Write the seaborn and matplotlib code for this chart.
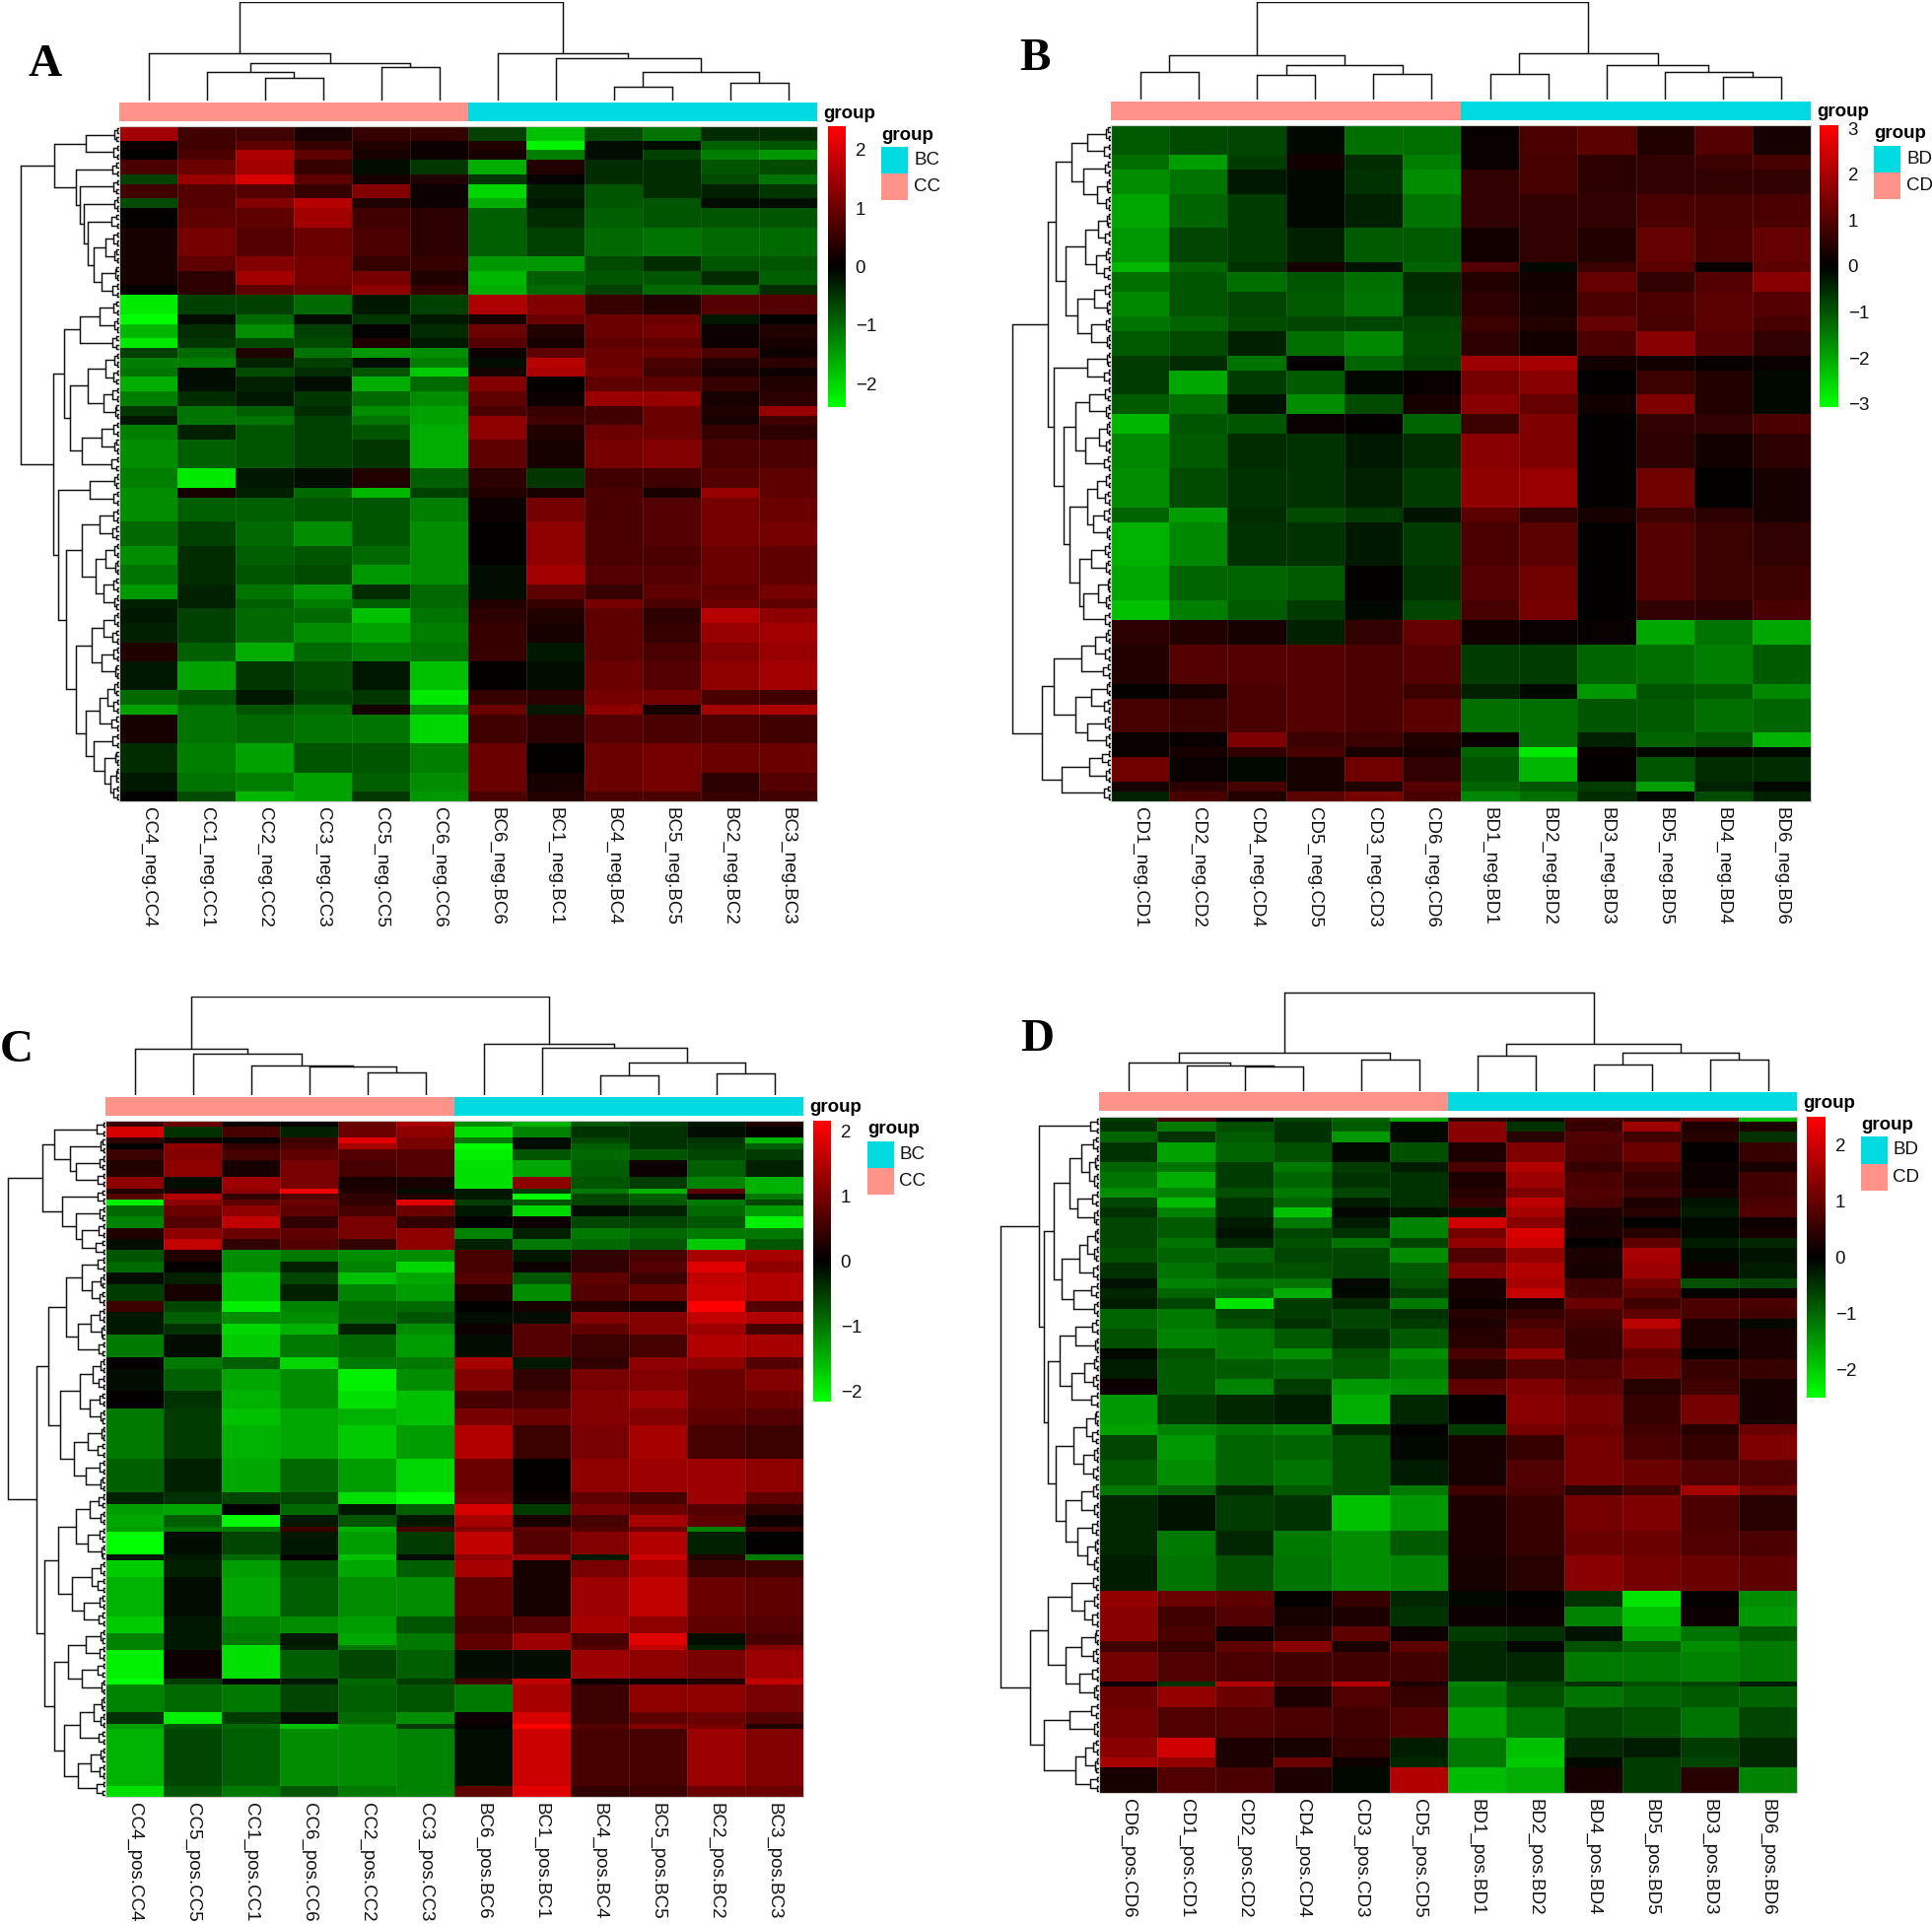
import numpy as np
import pandas as pd
import matplotlib
matplotlib.use("Agg")
import matplotlib.pyplot as plt
from matplotlib.colors import LinearSegmentedColormap, ListedColormap
import seaborn as sns

# Step 1: values
# each panel: rows of 12 values, and how many metabolites each row block covers
A_cols = ["CC4_neg.CC4", "CC1_neg.CC1", "CC2_neg.CC2", "CC3_neg.CC3", "CC5_neg.CC5", "CC6_neg.CC6",
          "BC6_neg.BC6", "BC1_neg.BC1", "BC4_neg.BC4", "BC5_neg.BC5", "BC2_neg.BC2", "BC3_neg.BC3"]
A_span = [3, 2, 2, 3, 2, 3, 2, 4, 6, 3, 3, 2,
          4, 2, 3, 2, 2, 2, 2, 3, 3, 2, 2, 3, 6, 4,
          2, 5, 5, 4, 4, 3, 2, 3, 4, 4, 6, 3, 2, 6, 6, 4, 2]
A_vals = [
    [1.5, .6, .6, .2, .5, .5, -.6, -1.8, -.7, -1.1, -.4, -.4],
    [.1, .6, .9, .5, .3, .1, .3, -2.3, -.1, -.1, -.9, -.8],
    [0, .7, 1.6, .9, .2, .1, .2, -1.2, -.1, -.6, -1.2, -1.4],
    [.7, 1.0, 1.5, .5, -.1, -.5, -1.6, .3, -.4, -.4, -.8, -.7],
    [-.6, 1.4, 2.0, .9, .2, .3, -.5, 0, -.4, -.4, -.7, -1.1],
    [.6, .8, .8, .5, 1.2, .1, -2.0, -.3, -.8, -.4, -.3, -.5],
    [-.7, .8, 1.2, 1.7, .3, .1, -1.6, -.2, -.8, -.8, -.1, -.1],
    [0, .9, .9, 1.5, .6, .4, -.9, -.4, -.9, -.8, -.8, -.8],
    [.2, 1.1, .8, 1.0, .7, .4, -.9, -.6, -1, -1.1, -1, -1],
    [.2, .9, 1.2, 1.1, .5, .5, -1.4, -1.4, -.7, -.4, -.8, -.8],
    [.2, .4, 1.5, 1.1, 1.1, .3, -1.7, -.9, -.8, -.8, -.4, -.9],
    [0, .4, .9, 1.0, 1.3, .5, -1.6, -1, -.6, -1, -1, -.4],
    [-2.2, -.6, -.6, -1, -.2, -.6, 1.6, 1.2, .5, .3, .8, .8],
    [-2.4, -.1, -1, -.1, -.5, -.2, .2, 1, 1, 1, -.2, 0],
    [-1.7, -.4, -1.3, -.6, 0, -.4, 1, .3, 1.0, 1.1, .1, .3],
    [-2.2, -.5, -.7, -.7, .3, -.2, .8, .2, .9, .9, .1, .2],
    [-.6, -1, .3, -1.1, -1.4, -1.3, .1, .9, 1, 1, .7, .1],
    [-1.2, -1.2, -.3, -.6, -.1, -1.2, -.1, 1.7, 1.0, .7, .3, .4],
    [-1.1, -.1, -.7, -.4, -.8, -1.9, .2, 1.6, 1.1, .6, .2, .1],
    [-1.6, -.1, -.3, -.1, -1.6, -1, 1.2, 0, .9, .9, .5, .3],
    [-1.2, -.4, -.2, -.5, -1, -1.3, .9, .1, 1.4, 1.4, .2, .4],
    [-.5, -1.1, -.9, -.4, -1.3, -1.5, .7, .5, .6, 1, .3, 1.4],
    [-.2, -1.1, -1.1, -.6, -1.1, -1.5, 1.3, .6, .6, 1.0, .2, .6],
    [-1.2, -.3, -.8, -.6, -.8, -1.6, 1.3, .3, 1.0, 1.0, .5, .4],
    [-1.3, -.9, -.8, -.6, -.5, -1.6, .9, .2, 1.1, 1.2, .7, .7],
    [-1.2, -2.2, -.2, -.1, .3, -.9, .4, -.5, .6, .6, .8, .9],
    [-1.3, .2, -.3, -1, -1.7, -.6, .3, .2, .7, .2, 1.4, .9],
    [-1.3, -.9, -.9, -.8, -.8, -1.2, .1, 1.1, .7, .8, 1.1, 1.0],
    [-1, -.6, -1, -1.3, -.8, -1.3, 0, 1.3, .7, .8, 1.1, 1.1],
    [-1.3, -.4, -.9, -.8, -1, -1.3, 0, 1.3, .7, .7, 1, .9],
    [-1.1, -.4, -.8, -.7, -1.4, -1.3, -.1, 1.5, .8, .8, 1, .9],
    [-1.4, -.3, -1.1, -1.4, -.4, -1, -.1, .9, .5, .9, .9, 1.1],
    [-.3, -.3, -.9, -1.2, -.9, -1, .3, .5, 1.1, .7, 1.0, .9],
    [-.2, -.6, -1, -1, -1.8, -1.1, .4, .3, .9, .4, 1.7, 1.3],
    [-.3, -.6, -1, -1.3, -1.5, -1.2, .5, .2, .9, .5, 1.4, 1.5],
    [.3, -.9, -1.6, -1, -1.2, -1.1, .5, -.2, .9, .7, 1.2, 1.4],
    [-.2, -1.5, -.5, -.7, -.2, -1.8, 0, -.1, 1, .8, 1.3, 1.5],
    [-1, -.8, -.2, -.6, -.5, -2.2, .5, .4, 1.1, 1.1, .7, .6],
    [-1.5, -1.1, -.8, -1, .2, -1.3, 1.0, -.2, 1.3, .2, 1.5, 1.6],
    [.2, -1.1, -1, -1.1, -1.1, -2, .6, .4, .8, .7, .7, .6],
    [-.4, -1.2, -1.5, -.8, -.8, -1.2, 1, 0, 1, 1.1, 1, 1],
    [-.2, -1.1, -1.2, -1.5, -.9, -1.3, 1, .2, 1, 1.1, .4, .8],
    [0, -.7, -1.7, -1.5, -.5, -1.4, .7, .3, .7, .7, .5, .6],
]
# trees: [height, left, right]; 0 is one leaf, any other number is two leaves joined at that height
A_coltree = [100, [48, 0, [38, [29, 0, 23], 34]], [48, 0, [43, 0, [29, 14, 18]]]]
A_rowtree = [100, [66, [34, 5, 6], [44, 7, [40, 6, [36, 5, [32, 8, [26, [14, 6, 5], [18, 4, 7]]]]]]],
             [67, [56, [40, [20, 6, 5], 7], [50, [32, [14, 5, 6], [16, 7, 4]], [38, [18, 6, 5], 8]]],
              [62, [30, 5, 6],
               [54, [38, [20, 6, 7], [24, [14, 5, 4], [16, 6, 5]]],
                [44, [28, [16, 5, 7], [18, 6, 4]], [34, [20, [12, 5, 6], 8], [26, 7, [15, 4, [9, 3, 6]]]]]]]]]
# last fork next to the heatmap, one per tree leaf
A_twigs = [2, 3, 2, 2.5, 3, 2, 2, 3, 2.5, 2, 3, 2, 2, 2.5, 3, 2, 3, 2, 2, 2.5,
           3, 2, 2.5, 2, 3, 3, 2, 2, 2.5, 3, 2, 2, 3, 2.5, 2, 2, 3, 2, 2.5, 3,
           2, 3, 2, 2, 2.5, 2, 3, 3, 2, 2.5, 2, 2, 3, 2, 2.5, 3, 2, 2, 3, 2,
           2.5, 2, 3, 2, 2, 3, 2.5, 2, 3, 2, 2, 2.5, 3, 2, 2, 3, 2, 2.5, 2, 3]
A_ticks = [-2, -1, 0, 1, 2]

B_cols = ["CD1_neg.CD1", "CD2_neg.CD2", "CD4_neg.CD4", "CD5_neg.CD5", "CD3_neg.CD3", "CD6_neg.CD6",
          "BD1_neg.BD1", "BD2_neg.BD2", "BD3_neg.BD3", "BD5_neg.BD5", "BD4_neg.BD4", "BD6_neg.BD6"]
B_span = [6, 3, 5, 7, 7, 2, 4, 5, 3, 5, 3, 5, 4, 4, 7, 8, 3, 9, 7, 4,
          5, 8, 3, 7, 3, 2, 5, 2, 2]
B_vals = [
    [-1.1, -.9, -.8, -.1, -1.3, -1.3, .1, .9, 1.1, .4, 1, .3],
    [-1.3, -1.9, -.7, .2, -.5, -1.5, .1, .8, .5, .6, .7, .8],
    [-1.7, -1.4, -.3, -.1, -.6, -1.7, .6, .8, .5, .6, .6, .6],
    [-2, -1.2, -.7, -.1, -.4, -1.4, .6, .6, .6, .9, .8, .9],
    [-1.8, -.8, -.7, -.4, -1.1, -1.1, .2, .6, .4, 1.2, .9, 1.2],
    [-2.2, -1.2, -.6, .3, -.2, -1.2, 1, -.1, .7, 1.1, .1, 1.1],
    [-1.3, -1, -1.3, -1, -1.3, -.5, .4, .2, 1.2, .6, 1, 1.6],
    [-1.6, -1, -.8, -1.1, -1.4, -.6, .5, .3, .9, .9, 1.1, 1],
    [-1.4, -1.2, -.9, -.8, -.8, -.8, .7, .4, 1.2, .8, 1.1, .8],
    [-1.1, -.9, -.4, -1.3, -1.6, -.9, .5, .2, .9, 1.6, 1, .6],
    [-.7, -.5, -1.4, 0, -1.2, -.8, 1.9, 2.0, .2, .2, .1, .1],
    [-.7, -2, -.7, -1.1, -.1, .1, 1.4, 1.6, 0, .7, .4, -.1],
    [-1.1, -1.3, -.2, -1.7, -.9, .3, 1.6, 1.2, .2, 1.5, .4, -.1],
    [-2.2, -1, -1, .1, 0, -1.2, .7, 1.5, 0, .6, .6, .9],
    [-1.6, -1.1, -.5, -.6, -.3, -.5, 1.6, 1.5, 0, .5, .2, .5],
    [-1.7, -.9, -.6, -.6, -.4, -.7, 1.7, 1.8, 0, 1.3, 0, .3],
    [-1.2, -1.9, -.5, -.9, -.7, -.2, 1.1, .6, .3, .7, .5, .3],
    [-2.1, -1.6, -.6, -.6, -.3, -.7, .9, 1.1, 0, 1, .7, .6],
    [-2, -1.2, -1.2, -1.1, 0, -.6, 1, 1.3, 0, 1, .7, .7],
    [-2.3, -1.5, -1.1, -.7, -.1, -.8, .8, 1.4, 0, .6, .5, .9],
    [.5, .4, .3, -.4, .6, 1.2, .2, .1, .1, -2, -1.4, -2],
    [.4, 1, 1, 1, .9, 1, -.7, -.7, -1.2, -1.3, -1.5, -1.1],
    [0, .3, .9, 1, .9, .7, -.4, -.1, -1.8, -1, -1.1, -1.6],
    [.8, .7, .9, 1, .9, 1.1, -1.3, -1.3, -1, -1.1, -1.3, -1.2],
    [.1, .1, 1.5, .7, .7, .4, .1, -1.3, -.4, -1.2, -1, -2.1],
    [.1, .3, .6, .9, .3, .3, -1.2, -2.8, .1, -.1, .1, -.1],
    [1.3, .1, -.1, .3, 1.3, .6, -1, -2.2, 0, -1, -.5, -.5],
    [.3, .5, .8, .3, .4, 1, -1.2, -1, -.7, -1.9, -.4, -.1],
    [-.4, .8, .4, 1.1, 1.4, .9, -1.6, -1.3, -.5, -.1, -.9, -.4],
]
B_coltree = [99, [45, 28, [35, 25, 26]], [47, 26, [35, 0, [28, 0, 23]]]]
B_rowtree = [100, [64, [56, [40, [24, 5, 7], [28, 6, [14, 4, 5]]],
                        [46, [26, [13, 4, 6], [15, 5, 7]], [34, [17, 6, 4], [20, 5, 4]]]],
                   [58, [24, 4, 7],
                    [48, [36, [22, 6, 5], [26, [12, 4, 5], 7]],
                     [42, [24, [14, 5, 6], [18, 7, 4]], [32, [20, 6, 5], [28, [13, 3, 5], 6]]]]]],
             [70, [58, [30, [16, 5, 6], 8], [36, [20, 4, 7], [24, 6, 5]]], [50, [22, 9, 5], 7]]]
B_twigs = [3, 2, 2.5, 2, 3, 2, 2, 3, 2.5, 2, 2, 3, 2, 2.5, 3, 2, 2, 3, 2, 2.5,
           2, 3, 2, 3, 2.5, 2, 2, 3, 2, 2, 2.5, 3, 2, 3, 2, 2, 2.5, 2, 3, 2,
           2, 2.5, 3, 2, 2, 3, 2, 2.5, 2, 3, 3, 2, 2, 2.5, 2, 3, 2, 2, 3, 2.5,
           2, 2, 3, 2, 2.5, 2, 3, 2, 3, 2, 2.5, 2, 2, 3, 2, 2.5, 3, 2, 2, 3]
B_ticks = [-3, -2, -1, 0, 1, 2, 3]

C_cols = ["CC4_pos.CC4", "CC5_pos.CC5", "CC1_pos.CC1", "CC6_pos.CC6", "CC2_pos.CC2", "CC3_pos.CC3",
          "BC6_pos.BC6", "BC1_pos.BC1", "BC4_pos.BC4", "BC5_pos.BC5", "BC2_pos.BC2", "BC3_pos.BC3"]
C_span = [1, 2, 1, 1, 2, 3, 2, 1, 1, 1, 2, 2, 2, 2,
          2, 2, 2, 3, 2, 2, 2, 4, 2, 4, 3, 3, 6,
          6, 2, 2, 2, 1, 4, 1, 3, 7, 3, 2, 1, 5, 1, 5, 2, 1, 10, 2]
C_vals = [
    [.5, .9, 0, 0, .9, 1.4, -1.2, -1.5, -.7, -.5, -.2, .3],
    [1.8, -.4, .6, -.3, .9, 1.2, -1.9, -1.1, -.4, -.4, -.1, 0],
    [.4, .1, 0, .5, 1.9, 1, -1, -.1, -.6, -.4, -.4, -1.5],
    [0, 1.2, .4, .6, 1.4, 1, -2.2, -.1, -.8, -.4, -.5, -.8],
    [.5, 1.1, .6, .8, .7, .7, -2, -.7, -.9, -.7, -.6, -.5],
    [.3, 1.2, .2, 1, .6, .7, -1.9, -1.4, -.8, .1, -.8, -.3],
    [1.2, -.1, 1.3, 1, .2, .2, -1.9, 1.2, -.7, -.5, -1.1, -1.5],
    [.3, .2, 1.2, 2, .3, -.1, -.2, -.5, -1, -1.5, .8, -1.5],
    [.7, 1.5, .4, .7, .4, .3, -.2, -2.2, -.6, -.8, .1, -1],
    [-2, 1.2, .8, .9, .4, 1.9, -.5, -.7, -.6, -.7, -1, -.6],
    [-.9, .9, 1.2, .8, .6, .9, -.2, -1.8, -.1, -.3, -.9, -1.3],
    [-1.1, .7, 1.6, .4, 1, .4, 0, .1, -.6, -.6, -.7, -2],
    [.3, 1.2, .9, .8, 1, 1.2, -1.1, -.3, -1, -.9, -1, -1],
    [-.1, 1.6, .4, .7, .4, 1.2, -.3, -1, -.9, -.7, -1.7, -.7],
    [-.7, .3, -1.2, -1, -1.2, -1.2, .6, -.2, .4, .6, 1.4, 1.4],
    [-.9, 0, -1.2, -.3, -1.1, -1.8, .6, .1, .4, .7, 1.9, 1.2],
    [-.1, -.3, -1.6, -.6, -1.6, -1.4, .7, -.7, .8, .5, 1.6, 1.5],
    [-.5, .2, -1.6, -.3, -1.1, -1.3, .3, -1.2, .7, .9, 1.7, 1.5],
    [.5, -.6, -2, -1.1, -.9, -.9, 0, .2, .3, .2, 2.2, .7],
    [-.2, -.8, -1.2, -1.2, -.9, -.7, -.1, -.1, 1.1, 1.1, 1.6, 1.5],
    [-.2, -.4, -1.8, -1.5, -.3, -1.2, .1, .7, .8, 1.1, 1.3, .6],
    [-1, -.1, -1.7, -1, -.9, -1.3, -.1, .7, .5, .6, 1.5, 1.4],
    [0, -1, -.8, -1.8, -1, -1, 1.4, -.2, .4, 1.2, 1.2, .7],
    [-.1, -.8, -1.4, -1.2, -2, -1.2, 1.1, .4, 1, 1.1, .9, 1.1],
    [0, -.4, -1.5, -1.2, -1.9, -1.6, .6, .6, 1.1, 1.3, .9, .9],
    [-1, -.5, -1.6, -1.4, -1.5, -1.6, 1, .9, 1.1, 1.1, .8, .7],
    [-1, -.5, -1.5, -1.4, -1.7, -1.3, 1.5, .5, 1, 1.4, .6, .5],
    [-.8, -.3, -1.4, -.9, -1.3, -1.8, .9, 0, 1.2, 1.3, 1.3, 1.2],
    [-.3, -.4, -.6, -.6, -1.9, -2.2, 1, .1, .8, .6, 1.3, .8],
    [-1.3, -1.4, 0, -.9, -.2, -.8, 1.8, -.5, 1, .9, .7, .4],
    [-1.4, -.8, -2.1, -.2, -.7, -.2, 1.4, .2, .6, 1.4, .8, .1],
    [-1.3, -1, -1, .5, -1.5, .6, 1.1, .8, .7, .9, -1.1, .5],
    [-2.2, -.1, -.6, -.2, -1.3, -.5, 1.6, .7, 1.1, 1.5, -.3, 0],
    [-.2, -.2, -.9, 0, -1.6, -.1, 1.2, 1.3, -.2, 1.7, .3, -1],
    [-1.7, -.3, -1.3, -.7, -1.4, -.8, 1.4, .2, 1, 1.4, .5, .5],
    [-1.5, -.1, -1.4, -.8, -1.2, -1.2, .8, .2, 1.3, 1.6, .9, .8],
    [-1.7, -.2, -1.1, -1.2, -1.3, -.7, .6, .7, 1.4, 1.2, .8, .7],
    [-1.1, -.2, -1, -.2, -1.4, -1, .8, 1.3, .6, 1.9, -.1, .6],
    [-1.1, -.2, -1.9, -.3, -1, -1, .8, 1.3, .7, 1.6, -.3, 1.1],
    [-2, .1, -1.9, -.8, -.6, -.8, -.1, -.1, 1.3, 1.2, 1, 1.3],
    [-2.2, -.5, 0, -.2, -.9, -.5, .6, 1.6, .1, .1, .3, 1.6],
    [-1.1, -.9, -1, -.6, -.8, -.7, -1, 1.4, .5, 1.2, 1.2, 1],
    [-.4, -2, -.5, -.1, -.9, -1.2, .1, 1.8, .5, .8, .9, .7],
    [-1.3, -.7, -.9, -1.6, -1.2, -.5, 0, 2.2, .7, 1.1, 1, .3],
    [-1.5, -.6, -.8, -1.2, -1.2, -1.1, -.1, 1.7, .6, .6, 1.3, 1.1],
    [-1.9, -.7, -1, -.7, -1, -1.1, .8, 1.9, .4, .5, .9, .9],
]
C_coltree = [100, [47, 0, [42, 0, [30, 0, [29, 0, 23]]]], [52, 0, [48, 0, [33, 20, 22]]]]
C_rowtree = [99, [64, [52, 9, [36, 5, [30, 6, 8]]], [44, 8, [30, 6, [24, 7, 10]]]],
             [70, [58, [40, [24, 8, [14, 5, 6]], [28, [15, 6, 4], 7]],
                   [46, [26, [13, 5, 7], [16, 6, 5]], [32, [18, 4, 8], [20, 6, 5]]]],
              [62, [48, [30, [16, 7, 5], [18, 6, 4]], [34, [14, 5, 8], [22, 6, 7]]],
               [52, [38, [20, 5, 6], [24, 8, 4]], [42, [26, [12, 4, 5], 7], [28, [15, 5, 6], 9]]]]]]
C_twigs = [2, 2.5, 3, 2, 2, 3, 2, 2.5, 3, 2, 2, 3, 2.5, 2, 3, 2, 2, 2.5, 2, 3,
           3, 2, 2, 2.5, 2, 3, 2, 3, 2, 2.5, 2, 2, 3, 2, 2.5, 3, 2, 2, 3, 2,
           2.5, 2, 3, 2, 2, 3, 2.5, 2, 2, 3, 2, 3, 2, 2.5, 2, 2, 3, 2.5, 3, 2,
           2, 3, 2, 2, 2.5, 3, 2, 2.5, 2, 3, 2, 2, 3, 2.5, 2, 3, 2, 2, 2.5, 3]
C_ticks = [-2, -1, 0, 1, 2]

D_cols = ["CD6_pos.CD6", "CD1_pos.CD1", "CD2_pos.CD2", "CD4_pos.CD4", "CD3_pos.CD3", "CD5_pos.CD5",
          "BD1_pos.BD1", "BD2_pos.BD2", "BD4_pos.BD4", "BD5_pos.BD5", "BD3_pos.BD3", "BD6_pos.BD6"]
D_span = [1, 2, 2, 4, 2, 3, 2, 2, 2, 2, 2, 2, 3, 3, 2, 2, 2, 2, 2, 4, 2, 4, 3, 6, 2, 5,
          5, 2, 7, 5, 7,
          3, 4, 3, 2, 6, 1, 4, 6, 4, 2, 5]
D_vals = [
    [-.6, .6, 0, -.7, -1, -1.7, .4, .1, .6, .5, 1, -1.8],
    [-.5, -1.2, -.8, -.5, -.9, -.1, 1.3, -.5, .5, 1.5, .3, .3],
    [-1, -.5, -.9, -.5, -1.5, -.1, 1.3, .4, .8, .6, .4, -.5],
    [-.5, -1.6, -1, -.8, -.1, -.8, .3, 1.2, .7, 1, 0, .5],
    [-1, -1.1, -.6, -1.2, -.6, -.3, .7, 1.7, .5, .7, .1, .2],
    [-1.1, -1.7, -.6, -1, -.5, -.5, .3, 1.5, .7, .5, .1, .6],
    [-1.4, -1.3, -.8, -1.2, -.7, -.5, .4, 1.2, .8, .6, .2, .6],
    [-.7, -1.8, -.5, -1, -.3, -.5, .5, 1.8, .7, .3, -.2, .7],
    [-.5, -1.3, -.5, -1.9, -.1, -.2, -.2, 1.6, .3, .4, -.3, .8],
    [-.7, -.9, -.3, -1.2, -.3, -1.3, 2, 1.3, .2, 0, -.1, .1],
    [-.7, -.9, -.2, -.7, -.5, -1.3, 1.1, 2.1, .3, .4, -.1, .2],
    [-.7, -1.1, -.4, -.8, -1.1, -.7, 1.4, 2, 0, .9, -.3, -.4],
    [-.8, -1, -1, -.7, -.7, -1.4, .8, 1.4, .3, 1.6, -.1, -.2],
    [-.5, -1.1, -.8, -.8, -.7, -.9, 1.2, 1.7, .2, 1.5, .1, -.3],
    [-.2, -1.3, -1.1, -1.1, -.1, -.8, .2, 1.6, .6, 1.1, -.8, -.7],
    [-.4, -1, -1, -1.7, -.1, -.6, .2, 1.9, .6, .9, 0, .1],
    [-.3, -.7, -2.2, -.6, -.4, -1.2, .1, .3, 1, .6, .7, .7],
    [-1, -1.2, -.7, -.6, -.7, -.5, .4, .5, .7, .9, .7, .6],
    [-1, -1.2, -.8, -.5, -.7, -.6, .3, .7, .6, 1.8, .3, -.1],
    [-.8, -1.3, -1.2, -.9, -.5, -.9, .4, .9, .5, 1.3, .3, .3],
    [-.1, -.8, -1.2, -1.4, -.8, -1.4, .7, 1.4, .5, .9, 0, .3],
    [-.3, -.9, -.9, -1, -.9, -1.2, .4, .8, .8, 1, .5, .5],
    [.1, -.9, -1.3, -.6, -1.5, -1.4, .9, 1.2, .9, .4, .6, .2],
    [-1.5, -.6, -.4, -.3, -1.7, -.4, 0, 1.3, 1.1, .5, 1.1, .2],
    [-1.6, -1.3, -1.1, -1.3, -.4, 0, -.6, 1.1, 1, .6, .4, 1],
    [-.7, -1.5, -1, -1, -.8, -.1, .2, .5, 1.1, .7, .5, 1.2],
    [-.9, -1.4, -1, -1.1, -.8, -.3, .2, .8, 1.1, 1, .8, .8],
    [-1.2, -1, -.4, -.9, -.8, -1.2, .6, .7, .4, .6, 1.6, 1.1],
    [-.4, -.2, -.6, -.5, -1.9, -1.5, .3, .5, 1.1, 1.2, .7, .4],
    [-.4, -1.2, -.4, -1.2, -1.4, -.9, .3, .5, 1, 1, .8, .7],
    [-.3, -1.1, -.8, -1.1, -1.4, -1.3, .2, .4, 1.3, 1.1, 1, .9],
    [1.4, 1, .9, 0, .5, -.4, -.1, 0, -.5, -2.2, 0, -1.4],
    [1.3, .6, .8, .2, .3, -.5, .1, .1, -1.3, -1.9, .1, -1.5],
    [1.3, .7, .1, .4, .9, .1, -.6, -.5, -.2, -1.6, -1.1, -.9],
    [.6, .5, .9, 1.3, .3, .9, -.4, -.1, -.8, -1, -1.4, -1.2],
    [1.1, .8, .7, .6, .6, .6, -.4, -.4, -1.2, -1.2, -1.3, -1.2],
    [.1, -.5, 1.7, .9, 1.7, .3, -1.3, -.7, -.5, -.8, -.7, -.3],
    [1, 1.4, 1, .3, .8, .5, -1.2, -.8, -1.1, -1, -.9, -1],
    [1.1, .8, .8, .7, .6, .8, -1.6, -1.1, -.7, -.8, -1.1, -.7],
    [1.3, 2, .3, .2, .5, -.3, -1.2, -1.9, -.4, -.3, -.6, -.4],
    [1.6, 1.4, .3, 1, .1, -.4, -1.2, -2, -.1, -.6, -.7, -.4],
    [.2, .8, .7, .3, -.1, 1.7, -1.8, -1.7, .2, -.6, .4, -1.3],
]
D_coltree = [100, [39, [29, 0, [26, 0, 25]], 32], [48, 36, [39, 27, 32]]]
D_rowtree = [100, [61, 9, [56, [46, [30, [18, 6, [10, 4, 5]], [22, 7, 5]], [38, [20, [12, 4, 5], 6], [26, 8, 5]]],
                        [52, [40, [24, 7, 4], [28, [15, 5, 6], 8]],
                         [44, [26, [13, 4, 7], [16, 5, 6]], [34, [18, 6, 5], [22, 7, [12, 4, 5]]]]]]],
             [70, [52, [28, 6, [15, 5, 7]], [34, [18, 4, 6], [20, 7, 5]]], [56, [30, 8, 5], [24, [14, 6, 4], 9]]]]
D_twigs = [2.5, 2, 3, 2, 2, 3, 2.5, 2, 2, 3, 2, 3, 2, 2.5, 2, 3, 2, 2, 2.5, 3,
           2, 2, 3, 2, 2.5, 2, 3, 2, 3, 2, 2, 2.5, 3, 2, 2, 3, 2, 2.5, 2, 3,
           3, 2, 2.5, 2, 2, 3, 2, 2, 3, 2.5, 2, 3, 2, 2.5, 2, 2, 3, 2, 3, 2,
           2, 2.5, 3, 2, 2, 3, 2, 2.5, 3, 2, 2, 3, 2.5, 2, 3, 2, 2, 3, 2.5, 2]
D_ticks = [-2, -1, 0, 1, 2]

# Step 2: where each panel goes, in pixels of the 1960x1952 figure
W, H = 1960, 1952
panels = [
    dict(letter="A", letter_xy=(28, 66), cols=A_cols, span=A_span, vals=A_vals, coltree=A_coltree,
         rowtree=A_rowtree, twigs=A_twigs, ticks=A_ticks, vmax=2.4, groups=("CC", "BC"),
         x0=121, x1=829, y0=128, y1=813, annot=(104, 123), dend_top=2, dend_base=102,
         cbar=(840, 858, 128, 413), group_xy=(835, 115), leg_xy=(894, 137), leg_box=(894, 921, 149, 203), leg_text_x=927),
    dict(letter="B", letter_xy=(1034, 60), cols=B_cols, span=B_span, vals=B_vals, coltree=B_coltree,
         rowtree=B_rowtree, twigs=B_twigs, ticks=B_ticks, vmax=3.07, groups=("CD", "BD"),
         x0=1127, x1=1837, y0=127, y1=813, annot=(103, 122), dend_top=2, dend_base=101,
         cbar=(1846, 1865, 127, 413), group_xy=(1843, 113), leg_xy=(1901, 136), leg_box=(1901, 1928, 148, 202), leg_text_x=1934),
    dict(letter="C", letter_xy=(0, 1066), cols=C_cols, span=C_span, vals=C_vals, coltree=C_coltree,
         rowtree=C_rowtree, twigs=C_twigs, ticks=C_ticks, vmax=2.16, groups=("CC", "BC"),
         x0=107, x1=815, y0=1137, y1=1823, annot=(1113, 1132), dend_top=1011, dend_base=1111,
         cbar=(825, 843, 1137, 1422), group_xy=(821, 1124), leg_xy=(880, 1146), leg_box=(880, 907, 1158, 1212), leg_text_x=912),
    dict(letter="D", letter_xy=(1035, 1055), cols=D_cols, span=D_span, vals=D_vals, coltree=D_coltree,
         rowtree=D_rowtree, twigs=D_twigs, ticks=D_ticks, vmax=2.5, groups=("CD", "BD"),
         x0=1115, x1=1823, y0=1133, y1=1819, annot=(1108, 1127), dend_top=1006, dend_base=1107,
         cbar=(1833, 1852, 1133, 1418), group_xy=(1829, 1119), leg_xy=(1888, 1142), leg_box=(1888, 1915, 1153, 1208), leg_text_x=1920),
]

sns.set_style("white")
plt.rcParams["font.family"] = ["Liberation Sans", "DejaVu Sans"]
plt.rcParams["text.color"] = "black"

heat_cmap = LinearSegmentedColormap.from_list("gbr", ["#00ff00", "#000000", "#ff0000"], N=100)
group_cmap = ListedColormap(["#FF9289", "#00DAE0"])
FONT = 13.5
TREE_COLOR = "#111111"

fig = plt.figure(figsize=(W / 100, H / 100), dpi=100, facecolor="white")


def px_axes(x0, x1, y0, y1):
    """Axes from pixel edges, y counted from the top of the figure."""
    return fig.add_axes([x0 / W, 1 - y1 / H, (x1 - x0) / W, (y1 - y0) / H])


def px_text(x, y, s, **kw):
    fig.text(x / W, 1 - y / H, s, **kw)


def count_leaves(node):
    if isinstance(node, list):
        return count_leaves(node[1]) + count_leaves(node[2])
    return 1 if node == 0 else 2


def draw_tree(ax, node, total, vertical, twigs=None, seen=None):
    """Walk a nested tree, plot its links, return (leaf position, height)."""
    if seen is None:
        seen = [0]

    def link(p0, h0, p1, h1, h):
        ps, hs = [p0, p0, p1, p1], [h0, h, h, h1]
        if vertical:
            ax.plot(ps, hs, color=TREE_COLOR, lw=1.05, solid_joinstyle="miter")
        else:
            ax.plot(hs, ps, color=TREE_COLOR, lw=1.05, solid_joinstyle="miter")

    def leaf():
        i = seen[0]
        seen[0] += 1
        if twigs is None:
            return (i + .5) / total, 0
        link((i + .25) / total, 0, (i + .75) / total, 0, twigs[i])
        return (i + .5) / total, twigs[i]

    if not isinstance(node, list):
        if node == 0:
            return leaf()
        p0, h0 = leaf()
        p1, h1 = leaf()
        link(p0, h0, p1, h1, node)
        return (p0 + p1) / 2, node

    p0, h0 = draw_tree(ax, node[1], total, vertical, twigs, seen)
    p1, h1 = draw_tree(ax, node[2], total, vertical, twigs, seen)
    link(p0, h0, p1, h1, node[0])
    return (p0 + p1) / 2, node[0]


# Step 3: draw the four panels
for p in panels:
    data = pd.DataFrame(np.repeat(np.array(p["vals"]), p["span"], axis=0), columns=p["cols"])

    ax = px_axes(p["x0"], p["x1"], p["y0"], p["y1"])
    cax = px_axes(p["cbar"][0], p["cbar"][1], p["cbar"][2], p["cbar"][3])
    sns.heatmap(data, ax=ax, cmap=heat_cmap, vmin=-p["vmax"], vmax=p["vmax"], yticklabels=False,
                cbar_ax=cax, cbar_kws=dict(ticks=p["ticks"]))
    ax.set_xticklabels(p["cols"], rotation=270, ha="center", va="top", fontsize=FONT, color="#111111")
    ax.tick_params(axis="x", length=0, pad=4)
    ax.vlines(range(1, 12), 0, len(data), color="#888888", lw=.4, alpha=.35)
    cax.tick_params(length=0, pad=7, labelsize=FONT, labelcolor="#111111")
    for side in ax.spines.values():
        side.set_visible(True)
        side.set_color("#cfcfcf")
        side.set_linewidth(.8)

    # group bar above the heatmap
    bar = px_axes(p["x0"], p["x1"], p["annot"][0], p["annot"][1])
    sns.heatmap([[0] * 6 + [1] * 6], ax=bar, cmap=group_cmap, cbar=False, xticklabels=False, yticklabels=False)

    # column tree
    top = px_axes(p["x0"], p["x1"], p["dend_top"], p["dend_base"])
    draw_tree(top, p["coltree"], count_leaves(p["coltree"]), True)
    top.set_xlim(0, 1)
    top.set_ylim(0, p["dend_base"] - p["dend_top"])
    top.axis("off")

    # row tree
    side = px_axes(p["x0"] - 101, p["x0"], p["y0"], p["y1"])
    draw_tree(side, p["rowtree"], count_leaves(p["rowtree"]), False, p["twigs"])
    side.set_xlim(101, 0)
    side.set_ylim(1, 0)
    side.axis("off")

    # legend
    box = px_axes(p["leg_box"][0], p["leg_box"][1], p["leg_box"][2], p["leg_box"][3])
    sns.heatmap([[1], [0]], ax=box, cmap=group_cmap, cbar=False, xticklabels=False, yticklabels=False)
    mid = (p["leg_box"][2] + p["leg_box"][3]) / 2
    px_text(p["leg_text_x"], (p["leg_box"][2] + mid) / 2, p["groups"][1], fontsize=FONT, va="center", color="#111111")
    px_text(p["leg_text_x"], (p["leg_box"][3] + mid) / 2, p["groups"][0], fontsize=FONT, va="center", color="#111111")

    px_text(p["group_xy"][0], p["group_xy"][1], "group", fontsize=FONT, fontweight="bold", va="center")
    px_text(p["leg_xy"][0], p["leg_xy"][1], "group", fontsize=FONT, fontweight="bold", va="center")
    px_text(p["letter_xy"][0], p["letter_xy"][1], p["letter"], fontsize=34, fontweight="bold",
            family="Liberation Serif", va="center")

fig.savefig("out.png", dpi=100, facecolor="white")
